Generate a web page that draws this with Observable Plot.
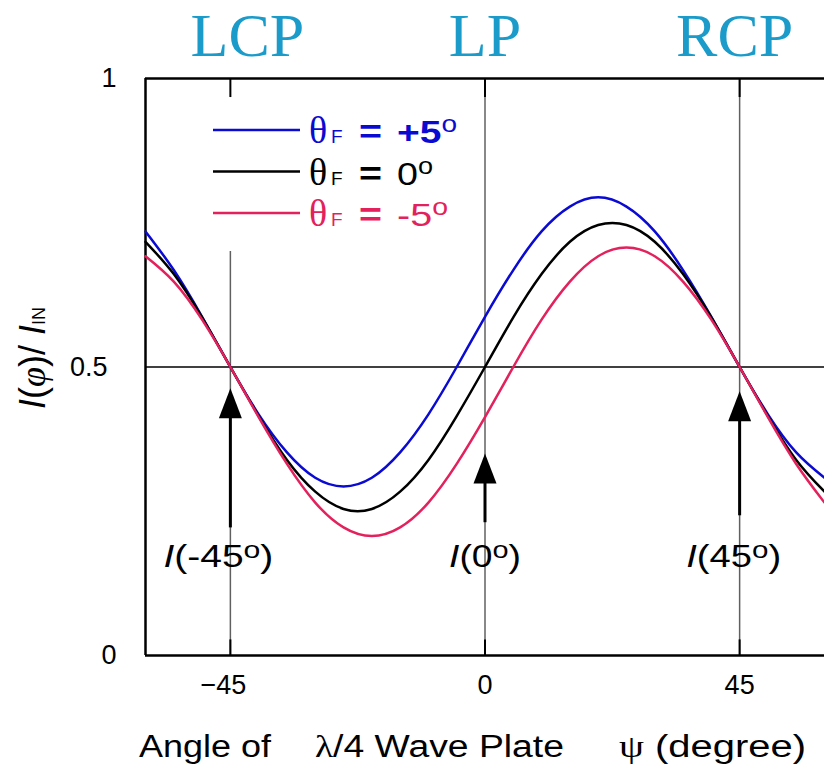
<!DOCTYPE html>
<html><head><meta charset="utf-8">
<script src="https://cdn.jsdelivr.net/npm/d3@7"></script>
<script src="https://cdn.jsdelivr.net/npm/@observablehq/plot@0.6"></script>
<style>html,body{margin:0;padding:0;background:#fff;overflow:hidden}svg{display:block}</style>
</head><body><div id="chart"></div>
<script>
// Angle of the quarter-wave plate psi (degree)
const psi = [-60,-55,-50,-45,-40,-35,-30,-25,-20,-15,-10,-5,0,5,10,15,20,25,30,35,40,45,50,55,60];
// Normalised intensity I(phi)/I_IN
const intensityPlus5  = [0.735,0.668,0.587,0.500,0.418,0.352,0.308,0.293,0.308,0.352,0.418,0.500,0.587,0.668,0.735,0.778,0.794,0.778,0.735,0.668,0.587,0.500,0.418,0.352,0.308];
const intensityZero   = [0.717,0.661,0.586,0.500,0.415,0.339,0.284,0.254,0.254,0.284,0.339,0.415,0.500,0.586,0.661,0.717,0.746,0.746,0.717,0.661,0.586,0.500,0.415,0.339,0.284];
const intensityMinus5 = [0.692,0.648,0.582,0.500,0.413,0.332,0.265,0.222,0.207,0.222,0.265,0.332,0.413,0.500,0.582,0.648,0.692,0.707,0.692,0.648,0.582,0.500,0.413,0.332,0.265];
const seriesValues = ["+5", "0", "-5"];
const seriesColors = ["#0a0ad2", "#000000", "#e3215c"];
const seriesWeights = ["bold", "normal", "normal"];
const xTicks = [-45, 0, 45];
const yTicks = [0, 0.5, 1];
const topLabels = ["LCP", "LP", "RCP"];
const markerTexts = ["(-45", "(0", "(45"];
const arrowTip = [0.463, 0.350, 0.458];
const arrowTail = [0.222, 0.231, 0.243];
const markerLabelY = 0.153;

const SANS = "'Liberation Sans', Arial, Helvetica, sans-serif";
const SERIF = "'Liberation Serif', 'Times New Roman', serif";

const seriesData = [intensityPlus5, intensityZero, intensityMinus5].map((arr, k) =>
  psi.map((p, i) => ({psi: p, I: arr[i], s: seriesValues[k]})));
const arrows = xTicks.map((x, i) => ({x, tip: arrowTip[i], tail: arrowTail[i], label: markerTexts[i]}));
const triangle = {draw(ctx) { ctx.moveTo(0, 0); ctx.lineTo(11.5, 30); ctx.lineTo(-11.5, 30); ctx.closePath(); }};

const topDx = [17, 0, -5];
const markerDx = [-12, 0, -6];
const markerLen = [110, 72, 95];
const valueLen = [60, 36, 51];

const plot = Plot.plot({
  width: 824, height: 764,
  marginLeft: 145, marginRight: 0, marginTop: 78, marginBottom: 109,
  style: {fontFamily: SANS, fontSize: "27px", background: "#fff", color: "#000", overflow: "visible"},
  x: {domain: [-60, 60]},
  y: {domain: [0, 1]},
  marks: [
    Plot.ruleX([0, 45], {y1: 0, y2: 1, stroke: "#606060", strokeWidth: 1.5}),
    Plot.ruleX([-45], {y1: 0, y2: 0.7, stroke: "#606060", strokeWidth: 1.5}),
    Plot.ruleX(xTicks, {y1: 1, y2: 0.967, stroke: "#000", strokeWidth: 2}),
    Plot.ruleX(xTicks, {y1: 0, y2: 0.027, stroke: "#000", strokeWidth: 2}),
    Plot.ruleY([0.5], {stroke: "#000", strokeWidth: 1.5}),
    Plot.ruleY([0, 1], {stroke: "#000", strokeWidth: 2.5}),
    Plot.ruleX([-60], {stroke: "#000", strokeWidth: 2.5}),
    Plot.axisX(xTicks.filter(d => d < 0), {tickSize: 0, tickPadding: 19, fontSize: 27, label: null, dx: -7}),
    Plot.axisX(xTicks.filter(d => d >= 0), {tickSize: 0, tickPadding: 19, fontSize: 27, label: null}),
    Plot.axisY(yTicks.filter(d => d !== 0.5), {tickSize: 0, tickPadding: 29, fontSize: 27, label: null, tickFormat: d => String(d)}),
    Plot.axisY(yTicks.filter(d => d === 0.5), {tickSize: 0, tickPadding: 38, fontSize: 27, label: null, tickFormat: d => String(d)}),
    Plot.line(seriesData[0], {x: "psi", y: "I", stroke: seriesColors[0], strokeWidth: 2.5, curve: "natural"}),
    Plot.line(seriesData[1], {x: "psi", y: "I", stroke: seriesColors[1], strokeWidth: 2.5, curve: "natural"}),
    Plot.line(seriesData[2], {x: "psi", y: "I", stroke: seriesColors[2], strokeWidth: 2.5, curve: "natural"}),
    Plot.link(arrows, {x1: "x", x2: "x", y1: "tail", y2: d => d.tip - 0.04, stroke: "#000", strokeWidth: 3}),
    Plot.dot(arrows, {x: "x", y: "tip", symbol: triangle, fill: "#000", r: 5}),
    ...arrows.map((a, i) => Plot.text([a], {x: "x", y: () => markerLabelY, text: "label", dx: markerDx[i],
      lineAnchor: "bottom", textAnchor: "middle", fontSize: 31})),
    ...topLabels.map((t, i) => Plot.text([t], {x: () => xTicks[i], y: () => 1, text: d => d, dx: topDx[i], dy: -23,
      lineAnchor: "bottom", textAnchor: "middle", fontSize: 62, fontFamily: SERIF, fill: "#1a9bc9"}))
  ]
});

document.getElementById("chart").appendChild(plot);
const svg = d3.select(plot);

// Rich text for the I(...) markers
svg.selectAll("text").filter(function() { return markerTexts.includes(this.textContent); }).each(function() {
  const s = this.textContent;
  const k = markerTexts.indexOf(s);
  const t = d3.select(this);
  t.text(null).attr("textLength", markerLen[k]).attr("lengthAdjust", "spacingAndGlyphs");
  t.append("tspan").attr("font-style", "italic").text("I");
  t.append("tspan").text(s);
  t.append("tspan").attr("font-size", 24).attr("dy", -9).text("o");
  t.append("tspan").attr("dy", 9).text(")");
});

// Legend
seriesValues.forEach((v, i) => {
  const ly = 130 + i * 41.5;
  const by = 143 + i * 41.5;
  svg.append("line").attr("x1", 213).attr("x2", 300).attr("y1", ly).attr("y2", ly)
    .attr("stroke", seriesColors[i]).attr("stroke-width", 2.5);
  const g = svg.append("g").attr("fill", seriesColors[i]).attr("text-anchor", "start");
  g.append("text").attr("x", 309).attr("y", by).attr("font-family", SERIF).attr("font-size", 38).text("θ");
  g.append("text").attr("x", 331).attr("y", by).attr("font-family", SANS).attr("font-size", 19).text("F");
  g.append("text").attr("x", 359).attr("y", by).attr("font-family", SANS).attr("font-size", 34)
    .attr("font-weight", "bold").attr("textLength", 23).attr("lengthAdjust", "spacingAndGlyphs").text("=");
  const t = g.append("text").attr("x", 397).attr("y", by).attr("font-family", SANS).attr("font-size", 32)
    .attr("font-weight", seriesWeights[i]).attr("textLength", valueLen[i]).attr("lengthAdjust", "spacingAndGlyphs");
  t.append("tspan").text(v);
  t.append("tspan").attr("font-size", 23).attr("dy", -11).attr("font-weight", "normal").text("o");
});

// Y axis title
const yl = svg.append("text").attr("transform", "translate(45,358) rotate(-90)")
  .attr("text-anchor", "middle").attr("font-family", SANS).attr("font-size", 36).attr("fill", "#000");
yl.append("tspan").attr("font-style", "italic").text("I");
yl.append("tspan").text("(");
yl.append("tspan").attr("font-style", "italic").attr("font-family", SERIF).text("φ");
yl.append("tspan").text(")/ ");
yl.append("tspan").attr("font-style", "italic").text("I");
yl.append("tspan").attr("font-size", 18).text("IN");

// X axis title
const xParts = [
  {x: 139, len: 132, parts: [["Angle of", SANS]]},
  {x: 315, len: 249, parts: [["λ", SERIF], ["/4 Wave Plate", SANS]]},
  {x: 619, len: 187, parts: [["ψ", SERIF], [" (degree)", SANS]]}
];
xParts.forEach(p => {
  const t = svg.append("text").attr("x", p.x).attr("y", 757).attr("font-size", 31).attr("fill", "#000")
    .attr("text-anchor", "start")
    .attr("font-family", SANS).attr("textLength", p.len).attr("lengthAdjust", "spacingAndGlyphs");
  p.parts.forEach(([s, f]) => t.append("tspan").attr("font-family", f).text(s));
});
</script>
</body></html>
